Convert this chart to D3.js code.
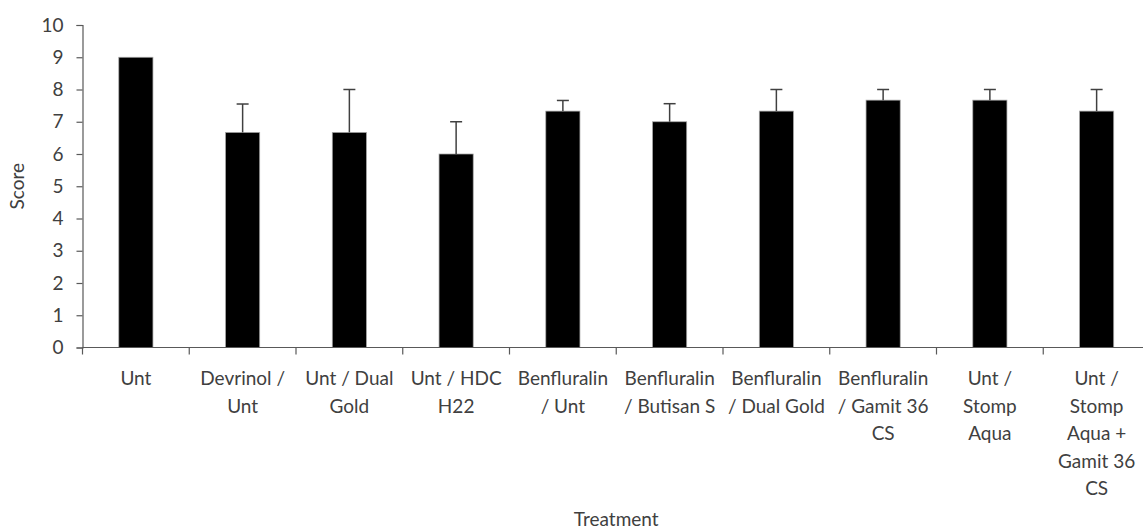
<!DOCTYPE html>
<html>
<head>
<meta charset="utf-8">
<script src="https://cdn.jsdelivr.net/npm/d3@7"></script>
<style>
  html, body { margin: 0; padding: 0; background: #fff; }
  svg { display: block; }
  text { font-family: Lato, "Open Sans", sans-serif; fill: #404040; }
</style>
</head>
<body>
<svg id="chart" width="1143" height="531"></svg>
<script>
const categories = [
  "Unt",
  "Devrinol /\nUnt",
  "Unt / Dual\nGold",
  "Unt / HDC\nH22",
  "Benfluralin\n/ Unt",
  "Benfluralin\n/ Butisan S",
  "Benfluralin\n/ Dual Gold",
  "Benfluralin\n/ Gamit 36\nCS",
  "Unt /\nStomp\nAqua",
  "Unt /\nStomp\nAqua +\nGamit 36\nCS"
];
const scores = [9.0, 6.67, 6.67, 6.0, 7.33, 7.0, 7.33, 7.67, 7.67, 7.33];
const errors = [0, 0.88, 1.33, 1.0, 0.33, 0.56, 0.67, 0.33, 0.33, 0.67];
const yTicks = [0, 1, 2, 3, 4, 5, 6, 7, 8, 9, 10];
const xTitle = "Treatment";
const yTitle = "Score";

(function () {
const svg = d3.select("#chart");
const mLeft = 82.5, mRight = 1150, mTop = 25, mBottom = 347.5;

const x = d3.scaleBand().domain(d3.range(categories.length)).range([mLeft, mRight]).padding(0);
const y = d3.scaleLinear().domain([0, 10]).range([mBottom, mTop]);
const barW = x.bandwidth() * 0.32;

// bars
svg.append("g").selectAll("rect").data(scores).join("rect")
  .attr("x", (d, i) => x(i) + x.bandwidth() / 2 - barW / 2)
  .attr("y", d => y(d))
  .attr("width", barW)
  .attr("height", d => y(0) - y(d))
  .attr("fill", "#000")
  .attr("stroke", "#a6a6a6")
  .attr("stroke-width", 0.75);

// error bars
const eg = svg.append("g").attr("stroke", "#404040").attr("stroke-width", 1.5);
scores.forEach((s, i) => {
  if (!errors[i]) return;
  const cx = x(i) + x.bandwidth() / 2;
  eg.append("line").attr("x1", cx).attr("x2", cx).attr("y1", y(s)).attr("y2", y(s + errors[i]));
  eg.append("line").attr("x1", cx - 6).attr("x2", cx + 6).attr("y1", y(s + errors[i])).attr("y2", y(s + errors[i]));
});

// y axis
const yAxis = svg.append("g").attr("transform", `translate(${mLeft},0)`)
  .call(d3.axisLeft(y).tickValues(yTicks).tickSize(6).tickPadding(13).tickFormat(d3.format("d")));
yAxis.select(".domain").attr("stroke", "#595959").attr("stroke-width", 1.2);
yAxis.selectAll(".tick line").attr("stroke", "#595959").attr("stroke-width", 1.2);
yAxis.selectAll(".tick text").attr("font-size", 19).attr("font-family", "Lato, 'Open Sans', sans-serif").attr("fill", "#404040");

// x axis
const xAxis = svg.append("g").attr("transform", `translate(0,${mBottom})`);
xAxis.append("line").attr("x1", mLeft).attr("x2", mRight).attr("y1", 0).attr("y2", 0)
  .attr("stroke", "#595959").attr("stroke-width", 1.2);
const tickPos = d3.range(categories.length + 1).map(i => i < categories.length ? x(i) : mRight);
xAxis.selectAll("line.tk").data(tickPos).join("line").attr("class", "tk")
  .attr("x1", d => d).attr("x2", d => d).attr("y1", 0).attr("y2", 7)
  .attr("stroke", "#595959").attr("stroke-width", 1.2);

const lbl = svg.append("g").selectAll("text").data(categories).join("text")
  .attr("text-anchor", "middle")
  .attr("font-size", 19)
  .attr("transform", (d, i) => `translate(${x(i) + x.bandwidth() / 2},385)`);
lbl.each(function(d) {
  const t = d3.select(this);
  d.split("\n").forEach((line, k) => {
    t.append("tspan").attr("x", 0).attr("y", k * 27.5).text(line);
  });
});

// titles
svg.append("text").attr("x", (mLeft + mRight) / 2).attr("y", 526)
  .attr("text-anchor", "middle").attr("font-size", 19).text(xTitle);
svg.append("text").attr("transform", `translate(24,${(mTop + mBottom) / 2}) rotate(-90)`)
  .attr("text-anchor", "middle").attr("font-size", 19).text(yTitle);
})();
</script>
</body>
</html>
